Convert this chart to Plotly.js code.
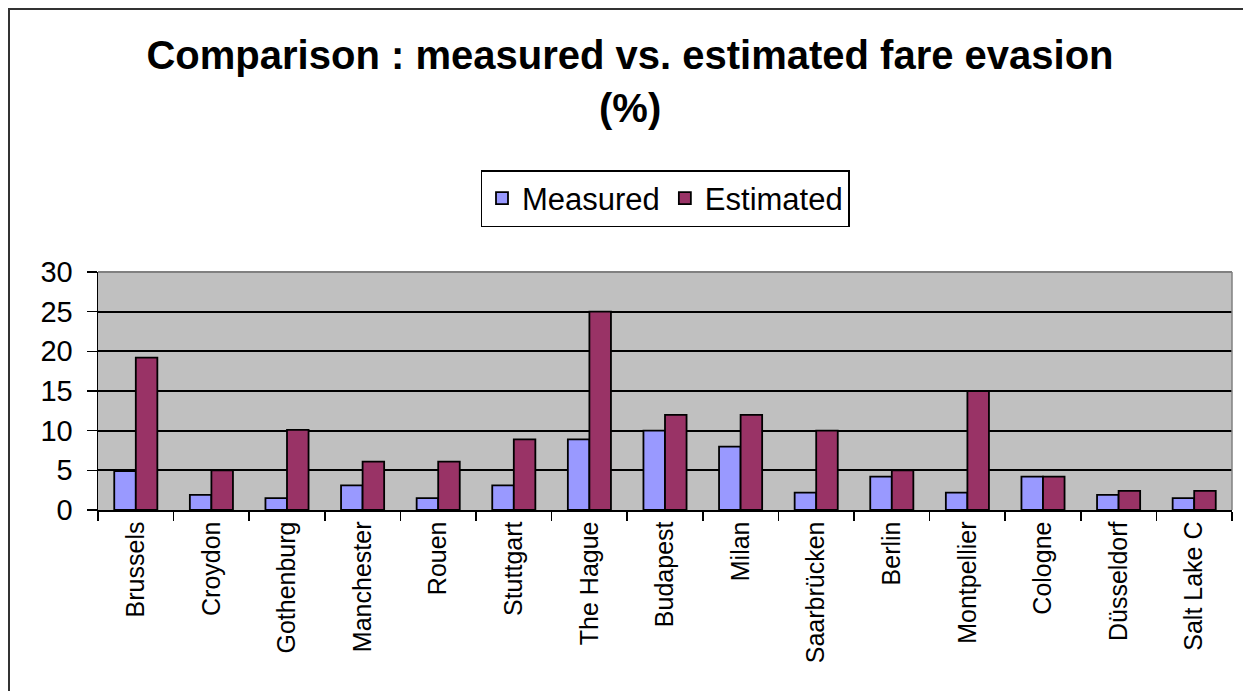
<!DOCTYPE html>
<html>
<head>
<meta charset="utf-8">
<script src="https://cdn.plot.ly/plotly-3.0.1.min.js"></script>
<style>
  html, body { margin: 0; padding: 0; background: #ffffff; }
  #chart { width: 1243px; height: 691px; position: absolute; left: 0; top: 0; }
  #frame { position: absolute; left: 8px; top: 8px; width: 1300px; height: 800px;
           border-left: 2px solid #333; border-top: 2px solid #333; pointer-events: none; }
</style>
</head>
<body>
<div id="chart"></div>
<div id="frame"></div>
<script>
const cities = ["Brussels", "Croydon", "Gothenburg", "Manchester", "Rouen", "Stuttgart", "The Hague",
                "Budapest", "Milan", "Saarbrücken", "Berlin", "Montpellier", "Cologne", "Düsseldorf", "Salt Lake C"];
const measured  = [4.9, 1.9, 1.5, 3.1, 1.5, 3.1, 8.9, 10, 8.0, 2.2, 4.2, 2.2, 4.2, 1.9, 1.5];
const estimated = [19.2, 5, 10.1, 6.1, 6.1, 8.9, 25, 12, 12, 10, 5, 15, 4.2, 2.4, 2.4];
const yTicks = [0, 5, 10, 15, 20, 25, 30];
const titleLine1 = "Comparison : measured vs. estimated fare evasion";
const titleLine2 = "(%)";

const FONT = "Liberation Sans, Arial, sans-serif";

const traces = [
  { type: "bar", name: "Measured", x: cities, y: measured,
    marker: { color: "#9999FF", line: { color: "#000000", width: 1.8 } } },
  { type: "bar", name: "Estimated", x: cities, y: estimated,
    marker: { color: "#993366", line: { color: "#000000", width: 1.8 } } }
];

const layout = {
  width: 1243, height: 691,
  paper_bgcolor: "#ffffff",
  plot_bgcolor: "#C0C0C0",
  margin: { l: 98, r: 11, t: 272, b: 181 },
  font: { family: FONT, color: "#000000" },
  barmode: "group",
  bargap: 0.43,
  bargroupgap: 0,
  title: { text: "<b>" + titleLine1 + "</b>", font: { family: FONT, size: 40, color: "#000000" },
           x: 630 / 1243, xanchor: "center", xref: "container",
           y: 1 - 55 / 691, yanchor: "middle", yref: "container" },
  annotations: [
    { text: "<b>" + titleLine2 + "</b>", xref: "paper", yref: "paper",
      x: (630 - 98) / 1134, y: 1 + (272 - 108) / 238, xanchor: "center", yanchor: "middle",
      showarrow: false, font: { family: FONT, size: 40, color: "#000000" } }
  ],
  legend: {
    orientation: "h", x: 0.5, xanchor: "center", y: 1 + (272 - 170) / 238, yanchor: "top",
    bgcolor: "#ffffff", bordercolor: "#000000", borderwidth: 1.5,
    font: { family: FONT, size: 31, color: "#000000" },
    traceorder: "normal", itemclick: false
  },
  xaxis: {
    type: "category", tickson: "boundaries", ticks: "outside", ticklen: 9, tickwidth: 1.5, tickcolor: "#000",
    tickangle: -90, tickfont: { family: FONT, size: 25, color: "#000" },
    showline: true, linecolor: "#000", linewidth: 1.5, showgrid: false,
    fixedrange: true
  },
  yaxis: {
    range: [0, 30], tickvals: yTicks, ticks: "outside", ticklen: 10, tickwidth: 1.5, tickcolor: "#000",
    tickfont: { family: FONT, size: 29, color: "#000" },
    showline: true, linecolor: "#000", linewidth: 1.5,
    showgrid: true, gridcolor: "#000000", gridwidth: 2, zeroline: false,
    fixedrange: true, ticklabelstandoff: 8
  },
  shapes: [
    { type: "line", xref: "paper", yref: "paper", x0: 0, x1: 1, y0: 1, y1: 1, line: { color: "#808080", width: 2 } },
    { type: "line", xref: "paper", yref: "paper", x0: 1, x1: 1, y0: 0, y1: 1, line: { color: "#808080", width: 1.5 } }
  ]
};

Plotly.newPlot("chart", traces, layout, { displayModeBar: false, staticPlot: true });
</script>
</body>
</html>
